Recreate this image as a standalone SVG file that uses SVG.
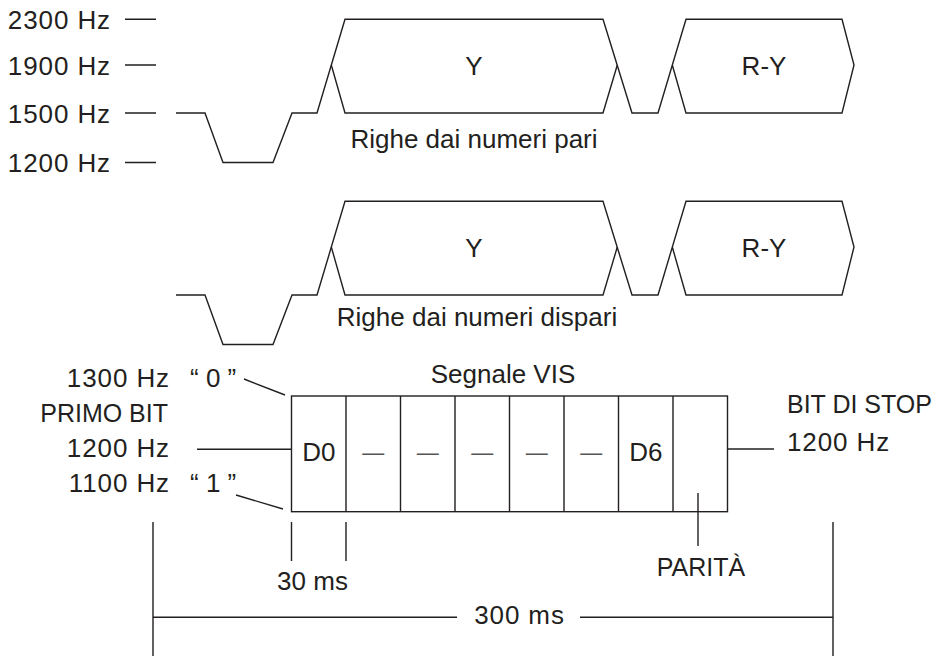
<svg xmlns="http://www.w3.org/2000/svg" width="948" height="656" viewBox="0 0 948 656">
<style>
.ln{fill:none;stroke:#231f20;stroke-width:1.4;stroke-linejoin:miter}
.t{font-family:"Liberation Sans",Arial,Helvetica,sans-serif;font-size:26px;fill:#231f20}
.hz{letter-spacing:0.9px}
.u{font-size:25px}
.e{text-anchor:end}
.m{text-anchor:middle}
.d{font-family:"Liberation Sans",Arial,sans-serif;font-size:22px;fill:#555;text-anchor:middle}
</style>
<rect width="948" height="656" fill="#ffffff"/>
<g id="freq-scale">
<text class="t e hz" x="111" y="28.5">2300 Hz</text>
<text class="t e hz" x="111" y="74.5">1900 Hz</text>
<text class="t e hz" x="111" y="122.5">1500 Hz</text>
<text class="t e hz" x="111" y="171.5">1200 Hz</text>
<path class="ln" d="M125,19.3H156M125,65H156M125,113H156M125,162.5H156"/>
</g>
<g id="wave-even">
<path class="ln" d="M176,113H205L223,162.5H273L292,113H317L345,19.3H603L632,113H658L686,19.3H842L854,65L842,113H686L672.3,65"/>
<path class="ln" d="M331.3,65L345,113H603L617.3,65"/>
<text class="t m" x="474" y="75">Y</text>
<text class="t m" x="764" y="75">R-Y</text>
<text class="t m" x="474" y="148.3">Righe dai numeri pari</text>
</g>
<g id="wave-odd">
<g transform="translate(0,182)">
<path class="ln" d="M176,113H205L223,162.5H273L292,113H317L345,19.3H603L632,113H658L686,19.3H842L854,65L842,113H686L672.3,65"/>
<path class="ln" d="M331.3,65L345,113H603L617.3,65"/>
</g>
<text class="t m" x="474" y="257">Y</text>
<text class="t m" x="764" y="257">R-Y</text>
<text class="t m" x="477" y="325.7">Righe dai numeri dispari</text>
</g>
<g id="vis-labels">
<text class="t e hz" x="170" y="387">1300 Hz</text>
<text class="t e u" x="168" y="422">PRIMO BIT</text>
<text class="t e hz" x="170" y="457">1200 Hz</text>
<text class="t e hz" x="170" y="492">1100 Hz</text>
<text class="t" x="190" y="387">“ 0 ”</text>
<text class="t" x="190" y="492">“ 1 ”</text>
<text class="t m" x="503" y="383.3">Segnale VIS</text>
<text class="t u" x="787" y="413">BIT DI STOP</text>
<text class="t hz" x="787" y="451">1200 Hz</text>
</g>
<g id="vis-frame">
<rect class="ln" x="291.5" y="396" width="436" height="115.7"/>
<path class="ln" d="M346,396V511.7M400.5,396V511.7M455,396V511.7M509.5,396V511.7M564,396V511.7M618.5,396V511.7M673,396V511.7"/>
<text class="t m" x="318.75" y="461">D0</text>
<text class="d" x="373.25" y="460">—</text>
<text class="d" x="427.75" y="460">—</text>
<text class="d" x="482.25" y="460">—</text>
<text class="d" x="536.75" y="460">—</text>
<text class="d" x="591.25" y="460">—</text>
<text class="t m" x="645.75" y="461">D6</text>
</g>
<g id="timing-labels">
<text class="t m" x="312.5" y="590">30 ms</text>
<text class="t m u" x="701" y="576">PARITÀ</text>
<text class="t m hz" x="519.5" y="624">300 ms</text>
</g>
<g id="connectors">
<path class="ln" d="M244,379L285,395"/>
<path class="ln" d="M236,495L283,509"/>
<path class="ln" d="M197,449.3H291.5"/>
<path class="ln" d="M727.5,449H774"/>
<path class="ln" d="M698,493V546"/>
<path class="ln" d="M291.5,522V561M346,522V561"/>
<path class="ln" d="M153,522V656M833,522V656"/>
<path class="ln" d="M153,617.3H457M580,617.3H833"/>
</g>
</svg>
